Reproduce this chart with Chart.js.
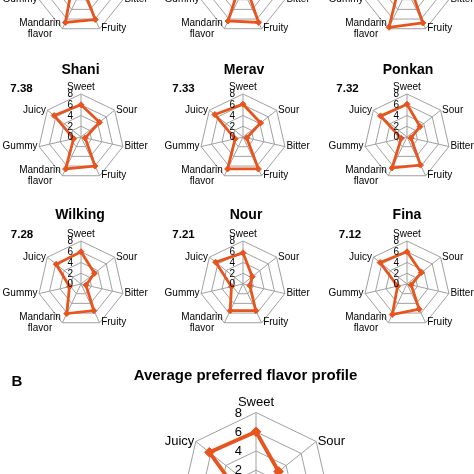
<!DOCTYPE html>
<html><head><meta charset="utf-8">
<script src="https://cdn.jsdelivr.net/npm/chart.js@4.4.1/dist/chart.umd.min.js"></script>
<style>
html,body{margin:0;padding:0;background:#fff;}
#wrap{position:relative;width:474px;height:474px;overflow:hidden;font-family:"Liberation Sans",Arial,sans-serif;color:#000;}
#c{position:absolute;left:0;top:0;}
.t{position:absolute;font-weight:bold;white-space:nowrap;transform:translate(-50%,-50%);line-height:1;}
</style></head>
<body><div id="wrap"><canvas id="c" width="474" height="474"></canvas></div>
<script>
// ---- data ----
const attributes = ['Sweet','Sour','Bitter','Fruity',['Mandarin','flavor'],'Gummy','Juicy'];
const tickValues = [0,2,4,6,8];
const varieties = ['Shani','Merav','Ponkan','Wilking','Nour','Fina'];
const scores = ['7.38','7.33','7.32','7.28','7.21','7.12'];
const topRowA = [6.5, 4.0, 0.6, 6.1, 6.7, 1.9, 6.8];
const topRowB = [6.5, 3.8, 0.9, 6.7, 6.4, 1.0, 6.8];
const topRowC = [6.6, 3.5, 0.9, 6.8, 7.7, 1.8, 6.6];
const shani   = [6.0, 4.4, 0.8, 6.0, 6.6, 1.4, 6.4];
const merav   = [6.1, 4.2, 0.7, 6.6, 6.6, 1.5, 6.7];
const ponkan  = [6.1, 3.1, 0.75, 5.8, 6.4, 1.1, 6.3];
const wilking = [6.0, 3.2, 0.95, 5.5, 6.1, 2.2, 5.9];
const nour    = [5.8, 2.2, 1.3, 5.5, 5.5, 2.2, 6.5];
const fina    = [6.0, 3.4, 0.8, 5.2, 6.3, 1.8, 6.4];
const average = [6.0, 3.0, 1.0, 5.8, 6.3, 1.8, 6.2];
const mainTitle = 'Average preferred flavor profile';
const panelLetter = 'B';

// ---- layout (positions/styles) ----
const series = [topRowA, topRowB, topRowC, shani, merav, ponkan, wilking, nour, fina, average];
const SMALL = {r:43, fs:10, tfs:10, pad:1.5, padTop:1.5, tickGap:8, lw:2.8, pr:3};
const BIG   = {r:77, fs:13, tfs:13, pad:1.5, padTop:3.5, tickGap:14, lw:3.8, pr:4.8};
const PANELS = [
  {x:81,y:-10,...SMALL},{x:243,y:-10,...SMALL},{x:407,y:-10,...SMALL},
  {x:81,y:137,...SMALL},{x:243,y:137,...SMALL},{x:407,y:137,...SMALL},
  {x:81,y:284,...SMALL},{x:243,y:284,...SMALL},{x:407,y:284,...SMALL},
  {x:256,y:489.5,...BIG}
];
const TITLE_POS = [[80.5,68.5],[244,68.5],[408,68.5],[80,214],[246,214],[407,214]];
const SCORE_POS = [[21.5,88.5],[183.5,88.5],[347.5,88.5],[22,234.5],[183.5,234.5],[350,234.5]];
const GRID = '#a0a0a0';
const ORANGE = '#e8541d';
const FONT = '"Liberation Sans", Arial, sans-serif';

const wrap = document.getElementById('wrap');
function addText(txt, x, y, size){
  const d = document.createElement('div');
  d.className = 't'; d.textContent = txt;
  d.style.left = x+'px'; d.style.top = y+'px'; d.style.fontSize = size+'px';
  wrap.appendChild(d);
}
varieties.forEach((v,i)=>addText(v, TITLE_POS[i][0], TITLE_POS[i][1], 14));
scores.forEach((s,i)=>addText(s, SCORE_POS[i][0], SCORE_POS[i][1], 11.5));
addText(mainTitle, 245.5, 373.5, 15);
addText(panelLetter, 17, 380, 15);

const scales = {};
PANELS.forEach((p,k)=>{
  scales['r'+k] = {
    type:'radialLinear', min:0, max:8,
    ticks:{display:false, stepSize:2},
    pointLabels:{display:false},
    grid:{color:GRID, lineWidth:1},
    angleLines:{color:GRID, lineWidth:1},
    afterFit: s => { s.xCenter = p.x; s.yCenter = p.y; s.drawingArea = p.r; }
  };
});

const datasets = series.map((d,k)=>({
  data:d, rAxisID:'r'+k, fill:false,
  borderColor:ORANGE, backgroundColor:ORANGE, borderWidth:PANELS[k].lw,
  pointStyle:'rectRot', pointRadius:PANELS[k].pr, pointBorderWidth:1,
  pointBackgroundColor:ORANGE, pointBorderColor:ORANGE
}));

const textPlugin = {
  id:'panelText',
  afterDraw(chart){
    const ctx = chart.ctx;
    PANELS.forEach((p,k)=>{
      const s = chart.scales['r'+k];
      ctx.save();
      ctx.fillStyle = '#000';
      ctx.font = p.tfs+'px '+FONT;
      ctx.textAlign = 'right'; ctx.textBaseline = 'middle';
      s.ticks.forEach(t=>{
        if (tickValues.indexOf(t.value) < 0) return;
        const d = s.getDistanceFromCenterForValue(t.value);
        ctx.fillText(String(t.value), s.xCenter - p.tickGap, s.yCenter - d + 0.5);
      });
      ctx.font = p.fs+'px '+FONT;
      ctx.textAlign = 'center';
      const lh = p.fs * 1.05;
      attributes.forEach((lab,i)=>{
        const lines = Array.isArray(lab) ? lab : [lab];
        const v = s.getPointPosition(i, s.drawingArea);
        const sn = Math.sin(s.getIndexAngle(i));
        const bw = Math.max(...lines.map(l=>ctx.measureText(l).width));
        let cx, cy;
        if (Math.abs(sn) < 0.2) { cx = v.x; cy = v.y - p.padTop - lines.length*lh/2; }
        else if (sn > 0) { cx = v.x + p.pad + bw/2; cy = v.y; }
        else { cx = v.x - p.pad - bw/2; cy = v.y; }
        lines.forEach((l,j)=>ctx.fillText(l, cx, cy + (j-(lines.length-1)/2)*lh));
      });
      ctx.restore();
    });
  }
};

new Chart(document.getElementById('c'), {
  type:'radar',
  data:{labels:attributes, datasets},
  options:{
    responsive:false, animation:false, events:[],
    layout:{padding:0},
    plugins:{legend:{display:false}, tooltip:{enabled:false}},
    scales
  },
  plugins:[textPlugin]
});
</script>
</body></html>
